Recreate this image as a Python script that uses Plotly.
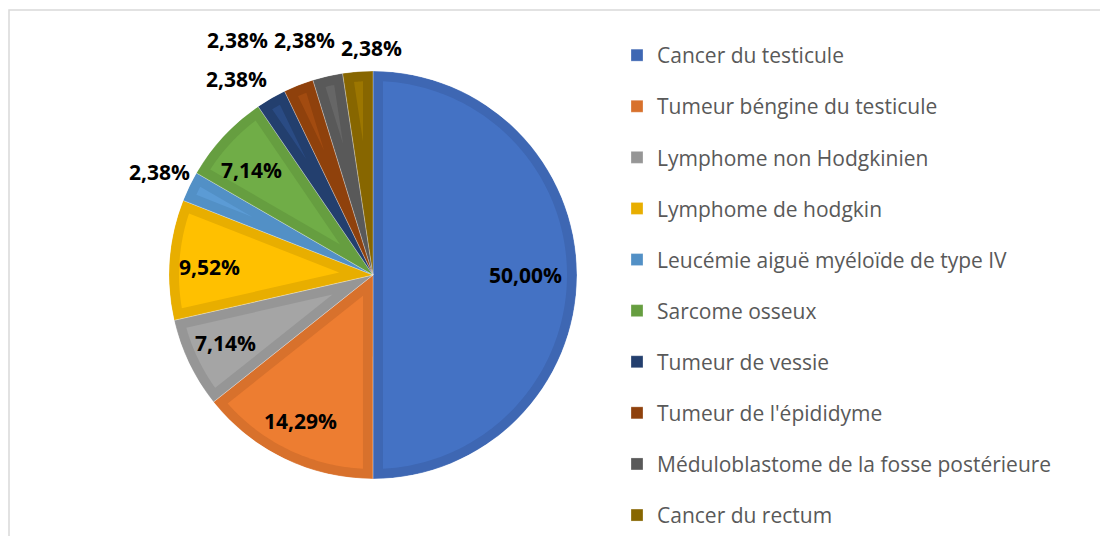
import math
import plotly.graph_objects as go

# ---------------- data ----------------
categories = [
    "Cancer du testicule",
    "Tumeur béngine du testicule",
    "Lymphome non Hodgkinien",
    "Lymphome de hodgkin",
    "Leucémie aiguë myéloïde de type IV",
    "Sarcome osseux",
    "Tumeur de vessie",
    "Tumeur de l'épididyme",
    "Méduloblastome de la fosse postérieure",
    "Cancer du rectum",
]
percentages = [50.00, 14.29, 7.14, 9.52, 2.38, 7.14, 2.38, 2.38, 2.38, 2.38]

# ---------------- style ----------------
fill_colors = ["#4472C4", "#ED7D31", "#A5A5A5", "#FFC000", "#5B9BD5",
               "#70AD47", "#2A4B84", "#A24B10", "#666666", "#9C7600"]
band_colors = ["#3E67B3", "#D8712C", "#969696", "#E8AE00", "#5290C6",
               "#669E40", "#233F6E", "#8F410C", "#595959", "#876600"]
# label placement: radius factor and angular shift (deg) from the slice middle
label_r = [0.75, 0.80, 0.794, 0.80, 1.164, 0.785, 1.172, 1.329, 1.20, 1.113]
label_dtheta = [0, 0.8, 1.0, -1.5, 0, -2.0, -4.95, -8.5, -3.5, 3.8]

OFF = 8                      # page body margin of the browser
W, H = 1100, 528
cx, cy, radius_px = 373 - OFF, 275 - OFF, 204
band_px = 10
d = band_px / radius_px
Rp = 1 - d

total = sum(percentages)
spans = [p / total * 360 for p in percentages]
starts = []
acc = 0
for s in spans:
    starts.append(acc)
    acc += s

fig = go.Figure()

# full slices (darker rim colour) -> legend entries
for i, cat in enumerate(categories):
    fig.add_trace(go.Barpolar(
        r=[1], base=[0], theta=[starts[i] + spans[i] / 2], width=[spans[i]],
        marker=dict(color=band_colors[i], line=dict(width=0.8, color="rgba(255,255,255,0.35)")),
        name=cat, legendgroup=cat, hoverinfo="skip",
    ))

# lighter inner part of every slice
for i, cat in enumerate(categories):
    th1, th2 = starts[i], starts[i] + spans[i]
    half = (th2 - th1) / 2
    apex_r = d / math.sin(math.radians(half))
    delta = math.degrees(math.asin(d / Rp))
    rs, ts = [apex_r], [th1 + half]
    n = max(6, int(th2 - th1))
    for k in range(n + 1):
        rs.append(Rp)
        ts.append(th1 + delta + (th2 - th1 - 2 * delta) * k / n)
    rs.append(apex_r)
    ts.append(th1 + half)
    fig.add_trace(go.Scatterpolar(
        r=rs, theta=ts, mode="lines", fill="toself",
        fillcolor=fill_colors[i], line=dict(width=0, color=fill_colors[i]),
        showlegend=False, hoverinfo="skip", legendgroup=cat,
    ))

# percentage labels (placed from each slice's angle)
texts = [("%.2f" % p).replace(".", ",") + "%" for p in percentages]
annotations = []
for i in range(len(categories)):
    th = math.radians(starts[i] + spans[i] / 2 + label_dtheta[i])
    px = cx + label_r[i] * radius_px * math.sin(th)
    py = cy - label_r[i] * radius_px * math.cos(th)
    annotations.append(dict(
        x=px / W, y=1 - py / H, xref="paper", yref="paper",
        text=texts[i], showarrow=False, xanchor="center", yanchor="middle",
        font=dict(family="Open Sans", size=21, color="#000000", weight="bold"),
    ))

dom_x = [(cx - radius_px) / W, (cx + radius_px) / W]
dom_y = [1 - (cy + radius_px) / H, 1 - (cy - radius_px) / H]

fig.update_layout(
    width=W, height=H,
    margin=dict(l=0, r=0, t=0, b=0),
    paper_bgcolor="white",
    plot_bgcolor="white",
    polar=dict(
        domain=dict(x=dom_x, y=dom_y),
        bgcolor="rgba(0,0,0,0)",
        hole=0,
        radialaxis=dict(visible=False, range=[0, 1]),
        angularaxis=dict(visible=False, rotation=90, direction="clockwise"),
        barmode="overlay",
    ),
    legend=dict(
        x=(617 - OFF) / W, xanchor="left", y=1 - (35 - OFF) / H, yanchor="top",
        font=dict(family="Open Sans", size=21, color="#595959"),
        tracegroupgap=20.8, bgcolor="rgba(0,0,0,0)",
    ),
    annotations=annotations,
    shapes=[dict(type="rect", xref="paper", yref="paper",
                 x0=(9 - OFF) / W, x1=1.05, y0=-0.05, y1=1 - (10 - OFF) / H,
                 line=dict(color="#D9D9D9", width=1.5))],
)

fig.write_html("out.html")
